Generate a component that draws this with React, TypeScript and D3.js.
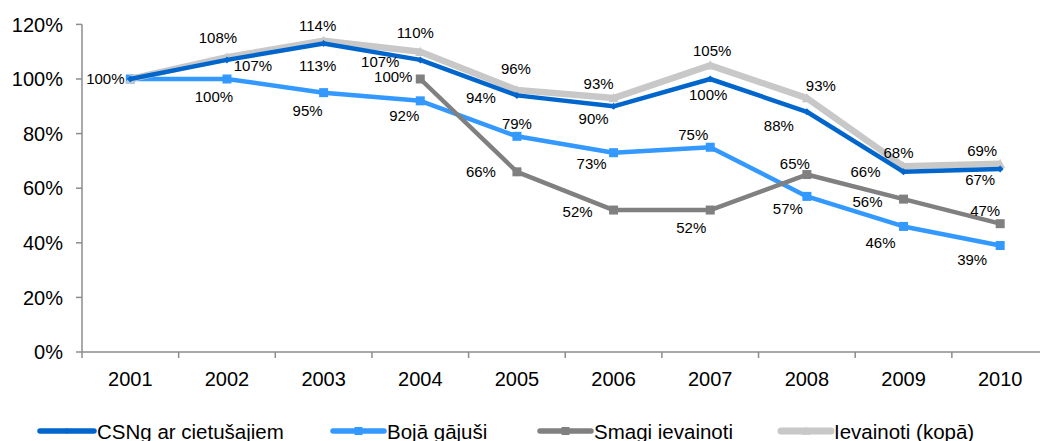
import React from "react";
import * as d3 from "d3";

const years = ["2001","2002","2003","2004","2005","2006","2007","2008","2009","2010"];
const csng = [100,107,113,107,94,90,100,88,66,67];
const boja = [100,100,95,92,79,73,75,57,46,39];
const smagi: (number|null)[] = [null,null,null,100,66,52,52,65,56,47];
const ievainoti = [100,108,114,110,96,93,105,93,68,69];
const yTicks = [0,20,40,60,80,100,120];
const seriesNames = ["CSNg ar cietušajiem","Bojā gājuši","Smagi ievainoti","Ievainoti (kopā)"];

// label offsets (dx, dy) relative to the point, null = hidden
const csngLab: ([number,number]|null)[] = [[-25,0],[26,6],[-6,22],[-40,2],[-36,2],[-20,12],[-2,16],[-28,14],[-38,0],[-20,11]];
const bojaLab: ([number,number]|null)[] = [null,[-13,18],[-16,18],[-16,15],[0,-13],[-22,11],[-17,-13],[-19,12],[-23,16],[-28,14]];
const smagiLab: ([number,number]|null)[] = [null,null,null,[-27,-2],[-36,0],[-36,2],[-19,18],[-12,-11],[-36,2],[-15,-13]];
const ievLab: ([number,number]|null)[] = [null,[-9,-20],[-6,-15],[-5,-19],[-1,-21],[-15,-15],[2,-15],[14,-13],[-5,-14],[-18,-13]];

const W = 1040, H = 441;
const x0 = 82, bw = 96.65;
const yTop = 24.4, yBot = 352;

const FONT = "'Liberation Sans', Arial, Helvetica, sans-serif";

export default function App() {
  const x = d3.scaleBand<string>().domain(years).range([x0, x0 + bw * years.length]).padding(0);
  const y = d3.scaleLinear().domain([0, 120]).range([yBot, yTop]);
  const cx = (i: number) => (x(years[i]) as number) + x.bandwidth() / 2;

  const series = [
    { name: seriesNames[1], vals: boja as (number|null)[], color: "#3399FF", width: 4.5, marker: "square", size: 9, lab: bojaLab },
    { name: seriesNames[2], vals: smagi, color: "#808080", width: 4.5, marker: "square", size: 9, lab: smagiLab },
    { name: seriesNames[3], vals: ievainoti as (number|null)[], color: "#C8C8C8", width: 6.5, marker: "triangle", size: 10, lab: ievLab },
    { name: seriesNames[0], vals: csng as (number|null)[], color: "#0066CC", width: 4.5, marker: "diamond", size: 7, lab: csngLab },
  ];

  const line = d3.line<number|null>()
    .defined(v => v !== null)
    .x((_, i) => cx(i))
    .y(v => y(v as number));

  const marker = (type: string, px: number, py: number, size: number, color: string, key: string) => {
    if (type === "square") return <rect key={key} x={px - size/2} y={py - size/2} width={size} height={size} fill={color} />;
    if (type === "diamond") {
      const s = size / 2;
      return <path key={key} d={`M${px},${py-s}L${px+s},${py}L${px},${py+s}L${px-s},${py}Z`} fill={color} />;
    }
    const s = size / 2;
    return <path key={key} d={`M${px},${py-s}L${px+s},${py+s*0.85}L${px-s},${py+s*0.85}Z`} fill={color} />;
  };

  const axisColor = "#8C8C8C";
  const legendItems = [
    { name: seriesNames[0], color: "#0066CC", marker: "diamond", size: 6, w: 4.5, lx: 40, tx: 97 },
    { name: seriesNames[1], color: "#3399FF", marker: "square", size: 8, w: 4.5, lx: 333, tx: 387 },
    { name: seriesNames[2], color: "#808080", marker: "square", size: 8, w: 4.5, lx: 540, tx: 594 },
    { name: seriesNames[3], color: "#C8C8C8", marker: "triangle", size: 9, w: 6, lx: 781, tx: 834 },
  ];

  return (
    <svg width={W} height={H} style={{ position: "absolute", left: 0, top: 0, background: "#fff" }} fontFamily={FONT}>
      {/* y axis */}
      <line x1={x0} x2={x0} y1={yTop} y2={yBot} stroke={axisColor} strokeWidth={1.5} />
      {yTicks.map(t => (
        <g key={t}>
          <line x1={x0 - 6} x2={x0} y1={y(t)} y2={y(t)} stroke={axisColor} strokeWidth={1.5} />
          <text x={63} y={y(t)} dy="0.36em" textAnchor="end" fontSize={20} fill="#000">{t}%</text>
        </g>
      ))}
      {/* x axis */}
      <line x1={x0} x2={x0 + bw * years.length} y1={yBot} y2={yBot} stroke={axisColor} strokeWidth={1.5} />
      {years.map((yr, i) => (
        <g key={yr}>
          <line x1={x(yr) as number} x2={x(yr) as number} y1={yBot} y2={yBot + 6} stroke={axisColor} strokeWidth={1.5} />
          <text x={cx(i)} y={386} textAnchor="middle" fontSize={20} fill="#000">{yr}</text>
        </g>
      ))}
      {/* series */}
      {series.map(s => (
        <g key={s.name}>
          <path d={line(s.vals) || ""} fill="none" stroke={s.color} strokeWidth={s.width} strokeLinejoin="round" />
          {s.vals.map((v, i) => v === null ? null : marker(s.marker, cx(i), y(v), s.size, s.color, s.name + i))}
        </g>
      ))}
      {/* labels */}
      {series.map(s => (
        <g key={s.name + "lab"}>
          {s.vals.map((v, i) => {
            const o = s.lab[i];
            if (v === null || !o) return null;
            return <text key={i} x={cx(i) + o[0]} y={y(v) + o[1]} dy="0.36em" textAnchor="middle" fontSize={15} fill="#000">{v}%</text>;
          })}
        </g>
      ))}
      {/* legend */}
      {legendItems.map(l => (
        <g key={l.name}>
          <line x1={l.lx} x2={l.tx - 3} y1={431} y2={431} stroke={l.color} strokeWidth={l.w + 1} strokeLinecap="round" />
          {marker(l.marker, (l.lx + l.tx - 3) / 2, 431, l.size, l.color, l.name + "m")}
          <text x={l.tx} y={438.5} fontSize={20.5} fill="#000">{l.name}</text>
        </g>
      ))}
    </svg>
  );
}
